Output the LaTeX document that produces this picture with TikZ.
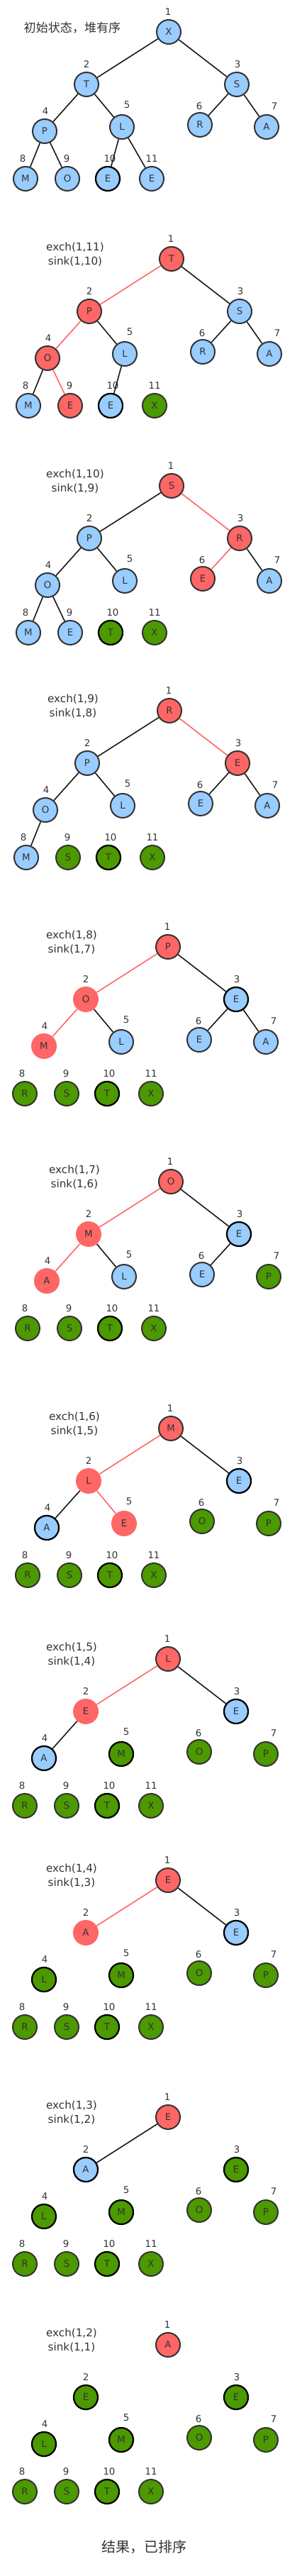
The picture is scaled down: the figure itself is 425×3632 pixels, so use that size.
\documentclass[tikz,border=0pt]{standalone}
\usepackage{fontspec}
\setmainfont{DejaVu Sans}
\newfontfamily\cjk{Noto Sans CJK SC}
\usepackage{tikz}
\definecolor{ink}{HTML}{333333}
\definecolor{rim}{HTML}{333333}
\definecolor{skyb}{HTML}{99CCFF}
\definecolor{hotred}{HTML}{FF6666}
\definecolor{leaf}{HTML}{4C9900}
\tikzset{
  key/.style={circle, minimum size=25.5pt, inner sep=0pt, text=ink, font=\fontsize{10}{12}\selectfont},
  blu/.style={key, fill=skyb, draw=rim, line width=1.5pt},
  blud/.style={blu, draw=black, line width=1.7pt},
  hot/.style={key, fill=hotred, draw=rim, line width=1.5pt},
  hotf/.style={key, fill=hotred, minimum size=27pt},
  grn/.style={key, fill=leaf, draw=rim, line width=1.5pt},
  grnd/.style={grn, draw=black, line width=1.7pt},
  link/.style={draw=black!90, line width=1.2pt},
  hlink/.style={draw=hotred, line width=1.2pt},
  idx/.style={text=ink, inner sep=0pt, font=\fontsize{10}{12}\selectfont},
  ttl/.style={text=ink, align=center, inner sep=0pt, font=\fontsize{11.4}{15}\selectfont},
  fin/.style={text=ink, inner sep=0pt, font=\cjk\fontsize{15}{18}\selectfont},
}
% #1 prefix, #2 x shift, #3 y of root, #4 title, #5 nodes, #6 links
\newcommand\heap[6]{%
  \begin{scope}[shift={(#2,#3)}]
    \foreach \i/\x/\y in {1/237/0,2/121/74,3/333/74,4/62/140,5/171/134,6/281/131,
                          7/375/134,8/35/207,9/94/207,10/151/207,11/213/207}
      \coordinate (#1c\i) at (\x,\y);
    \foreach \i/\x/\y in {1/236/-28,2/121/46,3/334/46,4/63/112,5/178/103,6/280/105,
                          7/386/105,8/31/179,9/93/179,10/154/179,11/213/179}
      \node[idx] (#1l\i) at (\x,\y) {\i};
    \node[ttl] (#1t) at (101,-6) {#4};
    \foreach \i/\v/\s in {#5}
      \node[\s] (#1\i) at (#1c\i) {\v};
    \foreach \a/\b/\s in {#6}
      \draw[\s] (#1\a) -- (#1\b);
  \end{scope}}

\begin{document}
\begin{tikzpicture}[x=0.75pt, y=-0.75pt]
  \fill[white] (0,0) rectangle (425,3632);
  \useasboundingbox (0,0) rectangle (425,3632);
  \heap{a}{1}{45}{\cjk\fontsize{12.8}{15}\selectfont 初始状态，堆有序}
    {1/X/blu,2/T/blu,3/S/blu,4/P/blu,5/L/blu,6/R/blu,7/A/blu,8/M/blu,9/O/blu,10/E/blud,11/E/blu}
    {1/2/link,1/3/link,2/4/link,2/5/link,3/6/link,3/7/link,4/8/link,4/9/link,5/10/link,5/11/link}
  \heap{b}{5}{365}{exch(1,11)\\sink(1,10)}
    {1/T/hot,2/P/hot,3/S/blu,4/O/hot,5/L/blu,6/R/blu,7/A/blu,8/M/blu,9/E/hot,10/E/blud,11/X/grn}
    {1/2/hlink,1/3/link,2/4/hlink,2/5/link,3/6/link,3/7/link,4/8/link,4/9/hlink,5/10/link}
  \heap{c}{5}{685}{exch(1,10)\\sink(1,9)}
    {1/S/hot,2/P/blu,3/R/hot,4/O/blu,5/L/blu,6/E/hot,7/A/blu,8/M/blu,9/E/blu,10/T/grnd,11/X/grn}
    {1/2/link,1/3/hlink,2/4/link,2/5/link,3/6/hlink,3/7/link,4/8/link,4/9/link}
  \heap{d}{2}{1002}{exch(1,9)\\sink(1,8)}
    {1/R/hot,2/P/blu,3/E/hot,4/O/blu,5/L/blu,6/E/blu,7/A/blu,8/M/blu,9/S/grn,10/T/grnd,11/X/grn}
    {1/2/link,1/3/hlink,2/4/link,2/5/link,3/6/link,3/7/link,4/8/link}
  \heap{e}{0}{1335}{exch(1,8)\\sink(1,7)}
    {1/P/hot,2/O/hotf,3/E/blud,4/M/hotf,5/L/blu,6/E/blu,7/A/blu,8/R/grn,9/S/grn,10/T/grnd,11/X/grn}
    {1/2/hlink,1/3/link,2/4/hlink,2/5/link,3/6/link,3/7/link}
  \heap{f}{4}{1666}{exch(1,7)\\sink(1,6)}
    {1/O/hot,2/M/hotf,3/E/blud,4/A/hotf,5/L/blu,6/E/blu,7/P/grn,8/R/grn,9/S/grn,10/T/grnd,11/X/grn}
    {1/2/hlink,1/3/link,2/4/hlink,2/5/link,3/6/link}
  \heap{g}{4}{2014}{exch(1,6)\\sink(1,5)}
    {1/M/hot,2/L/hotf,3/E/blud,4/A/blud,5/E/hotf,6/O/grn,7/P/grn,8/R/grn,9/S/grn,10/T/grnd,11/X/grn}
    {1/2/hlink,1/3/link,2/4/link,2/5/hlink}
  \heap{h}{0}{2339}{exch(1,5)\\sink(1,4)}
    {1/L/hot,2/E/hotf,3/E/blud,4/A/blud,5/M/grnd,6/O/grn,7/P/grn,8/R/grn,9/S/grn,10/T/grnd,11/X/grn}
    {1/2/hlink,1/3/link,2/4/link}
  \heap{i}{0}{2651}{exch(1,4)\\sink(1,3)}
    {1/E/hot,2/A/hotf,3/E/blud,4/L/grnd,5/M/grnd,6/O/grn,7/P/grn,8/R/grn,9/S/grn,10/T/grnd,11/X/grn}
    {1/2/hlink,1/3/link}
  \heap{j}{0}{2985}{exch(1,3)\\sink(1,2)}
    {1/E/hot,2/A/blud,3/E/grnd,4/L/grnd,5/M/grnd,6/O/grn,7/P/grn,8/R/grn,9/S/grn,10/T/grnd,11/X/grn}
    {1/2/link}
  \heap{k}{0}{3306}{exch(1,2)\\sink(1,1)}
    {1/A/hot,2/E/grnd,3/E/grnd,4/L/grnd,5/M/grnd,6/O/grn,7/P/grn,8/R/grn,9/S/grn,10/T/grnd,11/X/grn}
    {}
  \node[fin] (done) at (203,3591) {结果，已排序};
\end{tikzpicture}
\end{document}
